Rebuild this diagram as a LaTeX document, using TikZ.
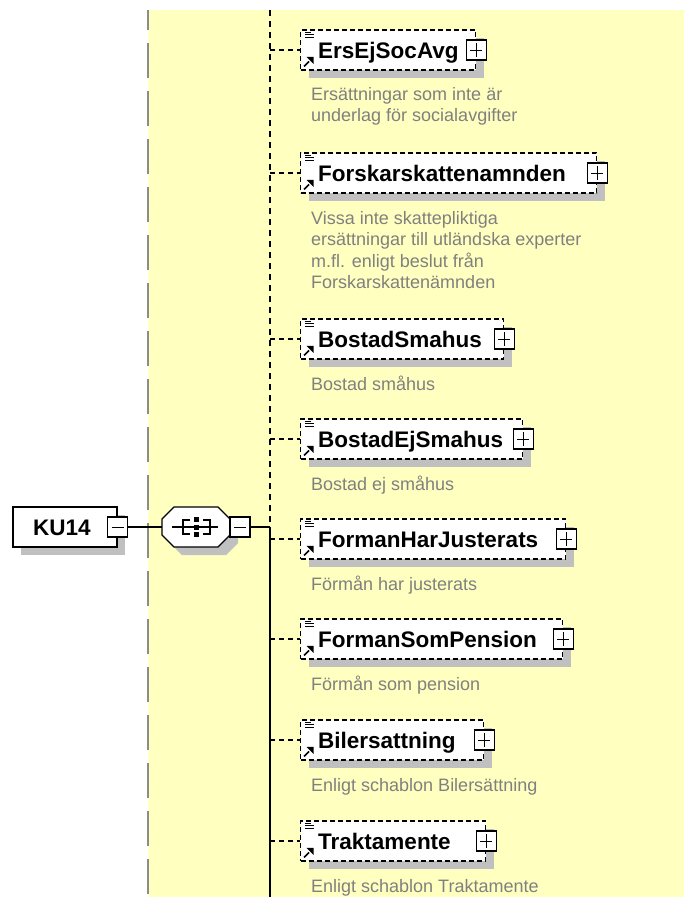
\documentclass[tikz,border=0pt]{standalone}
\usepackage{fontspec}
\setmainfont{Liberation Sans}
\usetikzlibrary{shadows,arrows.meta}
\definecolor{bgyellow}{RGB}{255,255,192}
\definecolor{descgray}{RGB}{128,128,128}
\definecolor{shadowgray}{RGB}{192,192,192}
\definecolor{lanegray}{RGB}{140,140,140}
\tikzset{
  x=1pt, y=-1pt,
  shadowed/.style={drop shadow={shadow xshift=8pt, shadow yshift=-8pt, fill=shadowgray, opacity=1}},
  elbox/.style={draw, fill=white, line width=1.2pt, dash pattern=on 5pt off 3pt,
    minimum height=40pt, inner sep=0pt, anchor=west, shadowed},
  rootbox/.style={draw, fill=white, line width=1.2pt, minimum height=40pt, minimum width=104pt,
    inner sep=0pt, shadowed},
  seqbox/.style={minimum width=68pt, minimum height=40pt, inner sep=0pt},
  pmbox/.style={draw, fill=white, line width=1.1pt, minimum size=20pt, inner sep=0pt},
  minusbox/.style={pmbox, path picture={\draw[line width=1pt]
      ([xshift=4pt]path picture bounding box.west) -- ([xshift=-4pt]path picture bounding box.east);}},
  plusbox/.style={pmbox, path picture={\draw[line width=1pt]
      ([xshift=4pt]path picture bounding box.west) -- ([xshift=-4pt]path picture bounding box.east)
      ([yshift=-3pt]path picture bounding box.north) -- ([yshift=3pt]path picture bounding box.south);}},
  elname/.style={anchor=base west, inner sep=0pt, font=\bfseries\fontsize{22.5}{24}\selectfont},
  desc/.style={anchor=base west, inner sep=0pt, text=descgray, font=\fontsize{18}{21.5}\selectfont},
  conn/.style={line width=1.2pt, dash pattern=on 5pt off 4pt},
  spinedash/.style={line width=1.2pt, dash pattern=on 6pt off 5pt},
  solidline/.style={line width=1.2pt},
  elicons/.pic={
    \draw[line width=0.9pt] (5,3) -- (11,3) (5,5.5) -- (14,5.5) (5,8) -- (14,8);
    \draw[line width=1.6pt] (4,37) -- (9,32);
    \fill (6.5,27.5) -- (13.5,27.5) -- (13.5,34.5) -- cycle;
  },
  octagon/.pic={
    \path[pic actions] (-34,-8) -- (-22,-20) -- (22,-20) -- (34,-8) -- (34,8) -- (22,20) -- (-22,20) -- (-34,8) -- cycle;
  }
}
\begin{document}
\begin{tikzpicture}
\useasboundingbox (0,0) rectangle (684,897);
% background lane
\fill[bgyellow] (148,10) rectangle (684,897);
\draw[lanegray, line width=1.3pt, dash pattern=on 35pt off 13pt, dash phase=15pt] (148,10) -- (148,897);
% spine
\coordinate (spinetop) at (270,10);
\coordinate (spinejoin) at (270,527);
\coordinate (spinebot) at (270,897);
\draw[spinedash] (spinetop) -- (spinejoin);
\draw[solidline] (spinejoin) -- (spinebot);
% root
\node[rootbox] (ku) at (65,527) {};
\node[anchor=base, inner sep=0pt, font=\bfseries\fontsize{22.5}{24}\selectfont] (kut) at (62,535) {KU14};
\node[minusbox] (kum) at (ku.east) {};
% sequence
\node[seqbox] (seq) at (196,527) {};
\pic[fill=shadowgray] at ([shift={(8,8)}]seq.center) {octagon};
\pic[draw, fill=white, line width=1.2pt] at (seq.center) {octagon};
\node[minusbox] (seqm) at (240,527) {};
\draw[solidline] (kum.east) -- (seq.west);
\draw[solidline] (seqm.east) -- (spinejoin);
% sequence icon
\begin{scope}[shift={(seq.center)}]
  \draw[line width=1.1pt] (-24,0) -- (22,0);
  \draw[line width=1.1pt] (-6,-7) -- (-13,-7) -- (-13,7) -- (-6,7);
  \draw[line width=1.1pt] (7,-7) -- (14,-7) -- (14,7) -- (7,7);
  \fill (-2.5,-10.5) rectangle (2.5,-5.5);
  \fill (-2.5,-2.5) rectangle (2.5,2.5);
  \fill (-2.5,4.5) rectangle (2.5,9.5);
\end{scope}
% children
\foreach \i/\y/\w/\name in {
  1/50/175/ErsEjSocAvg,
  2/173/296/Forskarskattenamnden,
  3/339/203/BostadSmahus,
  4/439/222/BostadEjSmahus,
  5/539/265/FormanHarJusterats,
  6/639/262/FormanSomPension,
  7/740/183/Bilersattning,
  8/841/185/Traktamente}{
  \coordinate (s\i) at (270,\y);
  \node[elbox, minimum width=\w pt] (e\i) at (300,\y) {};
  \draw[conn] (s\i) -- (e\i.west);
  \pic at (e\i.north west) {elicons};
  \node[elname] (n\i) at (318,\y+8) {\name};
  \node[plusbox] (p\i) at (e\i.east) {};
}
\node[desc] (d1) at (311,100) {\vtop{\hbox{Ersättningar som inte är}\hbox{underlag för socialavgifter}}};
\node[desc] (d2) at (311,224) {\vtop{\hbox{Vissa inte skattepliktiga}\hbox{ersättningar till utländska experter}\hbox{m.fl. enligt beslut från}\hbox{Forskarskattenämnden}}};
\node[desc] (d3) at (311,390) {Bostad småhus};
\node[desc] (d4) at (311,490) {Bostad ej småhus};
\node[desc] (d5) at (311,590) {Förmån har justerats};
\node[desc] (d6) at (311,690) {Förmån som pension};
\node[desc] (d7) at (311,791) {Enligt schablon Bilersättning};
\node[desc] (d8) at (311,892) {Enligt schablon Traktamente};
\end{tikzpicture}
\end{document}
